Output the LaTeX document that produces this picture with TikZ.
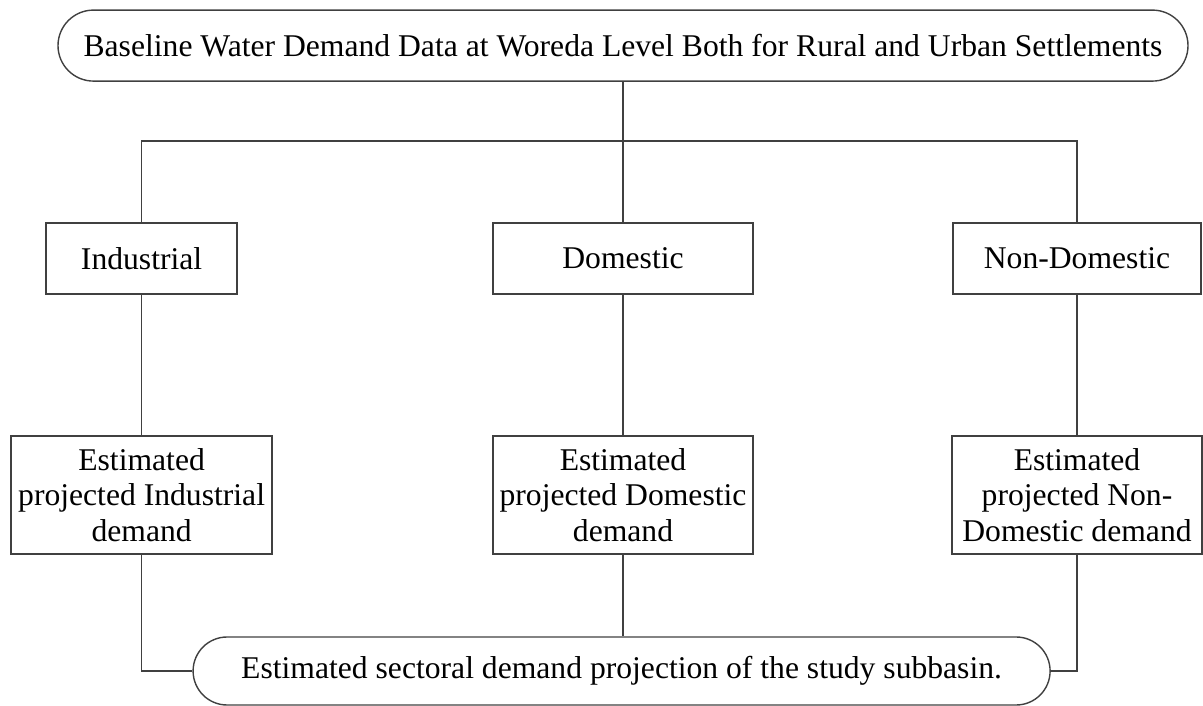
\documentclass[tikz,border=0pt]{standalone}
\usepackage{fontspec}
\setmainfont{Liberation Serif}
\usetikzlibrary{shapes.misc}

\begin{document}
\begin{tikzpicture}[font=\fontsize{22.5}{25.2}\selectfont,line width=1pt,
  pill/.style={rounded rectangle,draw=black!75,inner sep=0pt},
  box/.style={rectangle,draw=black!75,inner sep=0pt,align=center},
  link/.style={draw=black!75}]
 \useasboundingbox (0,0) rectangle (30.075,-17.65);
 % ---- baseline data
 \node[pill,minimum width=28.25cm,minimum height=1.775cm] (base) at (15.575,-1.14)
   {Baseline Water Demand Data at Woreda Level Both for Rural and Urban Settlements};
 \coordinate (split) at (15.575,-3.525);
 % ---- sectors
 \node[box,minimum width=4.775cm,minimum height=1.775cm] (ind) at (3.54,-6.46) {Industrial};
 \node[box,minimum width=6.5cm,minimum height=1.775cm] (dom) at (15.575,-6.46) {Domestic};
 \node[box,minimum width=6.2cm,minimum height=1.775cm] (non) at (26.925,-6.46) {Non-Domestic};
 % ---- projections
 \node[box,minimum width=6.525cm,minimum height=2.95cm] (indp) at (3.54,-12.375)
   {Estimated\\ projected Industrial\\ demand};
 \node[box,minimum width=6.5cm,minimum height=2.95cm] (domp) at (15.575,-12.375)
   {Estimated\\ projected Domestic\\ demand};
 \node[box,minimum width=6.25cm,minimum height=2.95cm] (nonp) at (26.925,-12.375)
   {Estimated\\ projected Non-\\ Domestic demand};
 % ---- result
 \node[pill,minimum width=21.425cm,minimum height=1.7cm] (sum) at (15.54,-16.775)
   {Estimated sectoral demand projection of the study subbasin.};
 % ---- links
 \draw[link] (base.south) -- (split) -- (dom.north);
 \draw[link] (ind.north) |- (split) -| (non.north);
 \draw[link] (ind.south) -- (indp.north) (dom.south) -- (domp.north) (non.south) -- (nonp.north);
 \draw[link] (indp.south) |- (sum.west);
 \draw[link] (nonp.south) |- (sum.east);
 \draw[link] (domp.south) -- (domp.south |- sum.north);
\end{tikzpicture}
\end{document}
